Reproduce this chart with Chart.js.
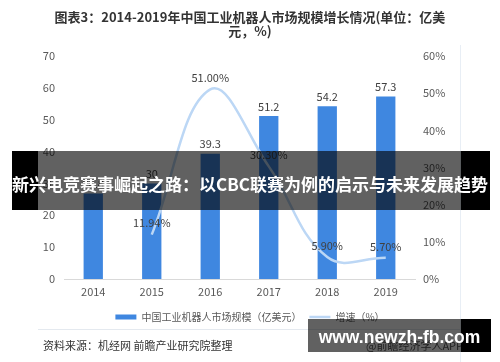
<!DOCTYPE html>
<html>
<head>
<meta charset="utf-8">
<script src="https://cdn.jsdelivr.net/npm/chart.js"></script>
<style>
  body { margin: 0; background: #fff; }
  #wrap { position: relative; width: 500px; height: 362px; overflow: hidden; font-family: "Noto Sans CJK SC", sans-serif; }
  #chartBox { position: absolute; left: 0; top: 0; width: 500px; height: 362px; }
  #title { position: absolute; left: 0; top: 10px; width: 500px; text-align: center; font-weight: bold; font-size: 13px; line-height: 13.5px; color: #333; }
  #sep { position: absolute; left: 38px; top: 329px; width: 422px; height: 1px; background: #e4e9ef; }
  #edge { position: absolute; left: 460px; top: 45px; width: 1px; height: 317px; background: #e8eef5; }
  #source { position: absolute; left: 43px; top: 337px; font-size: 11px; color: #333; }
  #app { position: absolute; left: 366px; top: 337px; font-size: 11px; color: #555; }
  .blk { position: absolute; background: #000; }
  .shade { position: absolute; background: rgba(0,0,0,0.62); }
  #bannerText { position: absolute; left: 0; top: 173px; width: 500px; text-align: center; color: #fff; font-weight: bold; font-size: 17px; line-height: 22px; white-space: nowrap; }
  #markText { position: absolute; left: 308px; top: 326px; width: 183px; text-align: center; color: #fff; font-family: "Liberation Sans", Arial, sans-serif; font-weight: bold; font-size: 17.5px; line-height: 22px; }
</style>
</head>
<body>
<div id="wrap">
  <div id="chartBox"><canvas id="barChart"></canvas></div>
  <div id="title">图表3：2014-2019年中国工业机器人市场规模增长情况(单位：亿美<br>元，%)</div>
  <div id="edge"></div>
  <div id="sep"></div>
  <div id="source">资料来源：机经网 前瞻产业研究院整理</div>
  <div id="app">@前瞻经济学人APP</div>
  <div class="blk" style="left:12px;top:151px;width:26px;height:59px"></div>
  <div class="shade" style="left:38px;top:151px;width:423px;height:59px"></div>
  <div class="blk" style="left:461px;top:151px;width:29px;height:59px"></div>
  <div id="bannerText">新兴电竞赛事崛起之路：以CBC联赛为例的启示与未来发展趋势</div>
  <div class="shade" style="left:308px;top:319px;width:153px;height:33px"></div>
  <div class="blk" style="left:461px;top:319px;width:30px;height:33px"></div>
  <div id="markText">www.newzh-fb.com</div>
</div>
<script>
const years = ['2014', '2015', '2016', '2017', '2018', '2019'];
const marketSize = [26.8, 30, 39.3, 51.2, 54.2, 57.3];
const growthRate = [null, 11.94, 51.00, 30.30, 5.90, 5.70];
const sizeTicks = ['0', '10', '20', '30', '40', '50', '60', '70'];
const rateTicks = ['0%', '10%', '20%', '30%', '40%', '50%', '60%'];

const FONT = '"Noto Sans CJK SC", sans-serif';

// value labels above bars and line points
const valueLabels = {
  id: 'valueLabels',
  afterDatasetsDraw(chart) {
    const ctx = chart.ctx;
    ctx.save();
    ctx.font = '11px ' + FONT;
    ctx.fillStyle = '#404040';
    ctx.textAlign = 'center';
    ctx.textBaseline = 'bottom';
    chart.getDatasetMeta(0).data.forEach((bar, i) => {
      ctx.fillText(String(marketSize[i]), bar.x, bar.y - 4);
    });
    chart.getDatasetMeta(1).data.forEach((pt, i) => {
      if (growthRate[i] == null) return;
      ctx.fillText(growthRate[i].toFixed(2) + '%', pt.x, pt.y - 6);
    });
    ctx.restore();
  }
};

const ctx = document.getElementById('barChart').getContext('2d');
new Chart(ctx, {
  type: 'bar',
  data: {
    labels: years,
    datasets: [{
      label: '中国工业机器人市场规模（亿美元）',
      data: marketSize,
      backgroundColor: '#3f87e0',
      borderWidth: 0,
      pointStyle: 'rect',
      barPercentage: 0.33,
      categoryPercentage: 1,
      yAxisID: 'y'
    }, {
      type: 'line',
      label: '增速（%）',
      data: growthRate,
      borderColor: '#bcd7f5',
      backgroundColor: '#bcd7f5',
      borderWidth: 2.5,
      pointRadius: 0,
      pointStyle: 'line',
      tension: 0.4,
      order: -1,
      yAxisID: 'y1'
    }]
  },
  options: {
    responsive: true,
    maintainAspectRatio: false,
    animation: false,
    layout: { padding: { top: 56, bottom: 30, left: 0, right: 0 } },
    plugins: {
      tooltip: { enabled: false },
      legend: {
        position: 'bottom',
        labels: {
          usePointStyle: true,
          pointStyleWidth: 21,
          boxHeight: 5,
          padding: 8,
          color: '#595959',
          font: { size: 10, family: FONT },
          sort: (a, b) => a.datasetIndex - b.datasetIndex
        }
      }
    },
    scales: {
      x: {
        grid: { display: false, drawTicks: false },
        border: { display: true, color: '#d9d9d9', width: 1 },
        ticks: { padding: 7, color: '#595959', font: { size: 11, family: FONT, lineHeight: 1 } }
      },
      y: {
        position: 'left',
        min: 0,
        max: 70,
        grid: { display: false, drawTicks: false },
        border: { display: false },
        ticks: { stepSize: 10, padding: 9, color: '#595959', font: { size: 11, family: FONT },
          callback: (v, i) => sizeTicks[i] },
        afterFit(s) { s.width = 64; }
      },
      y1: {
        position: 'right',
        min: 0,
        max: 60,
        grid: { display: false, drawTicks: false },
        border: { display: false },
        ticks: { stepSize: 10, padding: 8, color: '#595959', font: { size: 11, family: FONT },
          callback: (v, i) => rateTicks[i] },
        afterFit(s) { s.width = 85; }
      }
    }
  },
  plugins: [valueLabels]
});
</script>
</body>
</html>
